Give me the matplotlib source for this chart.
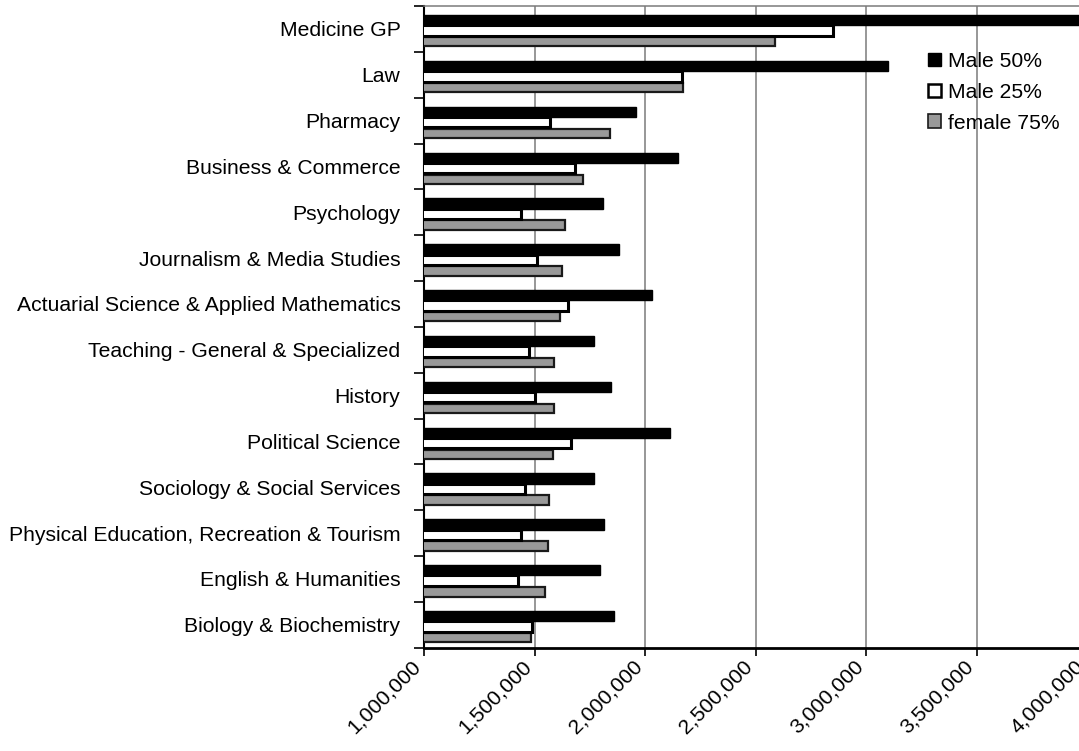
import numpy as np
import matplotlib
matplotlib.use("Agg")
import matplotlib.pyplot as plt
import matplotlib.transforms as mtransforms
from matplotlib.ticker import FuncFormatter, MultipleLocator
from matplotlib.patches import Patch

# --- data ---
categories = [
    "Medicine GP",
    "Law",
    "Pharmacy",
    "Business & Commerce",
    "Psychology",
    "Journalism & Media Studies",
    "Actuarial Science & Applied Mathematics",
    "Teaching - General & Specialized",
    "History",
    "Political Science",
    "Sociology & Social Services",
    "Physical Education, Recreation & Tourism",
    "English & Humanities",
    "Biology & Biochemistry",
]
male_50 = [4100000, 3100000, 1959000, 2147000, 1811000, 1884000, 2030000,
           1768000, 1848000, 2114000, 1768000, 1816000, 1794000, 1860000]
male_25 = [2850000, 2165000, 1572000, 1682000, 1440000, 1512000, 1652000,
           1475000, 1500000, 1664000, 1455000, 1440000, 1425000, 1488000]
female_75 = [2588000, 2170000, 1841000, 1717000, 1639000, 1623000, 1613000,
             1590000, 1590000, 1585000, 1566000, 1560000, 1548000, 1485000]
series_names = ["Male 50%", "Male 25%", "female 75%"]

plt.rcParams["font.family"] = ["Liberation Sans", "DejaVu Sans"]
plt.rcParams["font.size"] = 15.2

fig = plt.figure(figsize=(10.79, 7.51), dpi=100)
ax = fig.add_axes([0.393, 0.1375, 0.6145, 0.8545])

y = np.arange(len(categories))
h = 0.225
shift = 0.035
GRAY = "#999999"
GRID = "#7a7a7a"

# bars: black on top, white outlined in the middle, gray below
ax.barh(y - h + shift, male_50, height=h, color="black", edgecolor="black",
        linewidth=1.0, zorder=3)
ax.barh(y + h + shift + 0.02, female_75, height=h - 0.02, color=GRAY,
        edgecolor="#1a1a1a", linewidth=1.6, zorder=3)
ax.barh(y + shift, male_25, height=h, color="white", edgecolor="black",
        linewidth=2.2, zorder=4)

ax.set_xlim(1000000, 4000000)
ax.set_ylim(len(categories) - 0.5, -0.5)

# vertical gridlines
ax.xaxis.set_major_locator(MultipleLocator(500000))
ax.xaxis.set_major_formatter(FuncFormatter(lambda v, p: f"{int(v):,}"))
ax.grid(axis="x", color=GRID, linewidth=1.1, zorder=0)

# category labels, ticks between categories
ax.set_yticks(y)
ax.set_yticklabels(categories)
ax.set_yticks(np.arange(len(categories) + 1) - 0.5, minor=True)
ax.tick_params(axis="y", which="major", length=0, pad=17)
ax.tick_params(axis="y", which="minor", length=7, width=1.2, color="black")
ax.tick_params(axis="x", length=6, width=1.2, pad=4)

offset = mtransforms.ScaledTranslation(-6 / 100, -2 / 100, fig.dpi_scale_trans)
for lab in ax.get_xticklabels():
    lab.set_rotation(45)
    lab.set_ha("right")
    lab.set_va("center")
    lab.set_rotation_mode("anchor")
    lab.set_transform(lab.get_transform() + offset)

ax.spines["right"].set_visible(False)
ax.spines["top"].set_color(GRID)
ax.spines["top"].set_linewidth(1.1)
ax.spines["left"].set_linewidth(1.5)
ax.spines["bottom"].set_linewidth(2.0)

handles = [
    Patch(facecolor="black", edgecolor="black", linewidth=1.0),
    Patch(facecolor="white", edgecolor="black", linewidth=1.8),
    Patch(facecolor=GRAY, edgecolor="#1a1a1a", linewidth=1.2),
]
fig.legend(handles, series_names, loc="upper left",
           bbox_to_anchor=(928 / 1079, 1 - 52 / 751), bbox_transform=fig.transFigure,
           frameon=False, borderpad=0, borderaxespad=0,
           handlelength=0.6, handleheight=0.6, handletextpad=0.35,
           labelspacing=0.56, fontsize=15.2)

fig.savefig("out.png", dpi=100)
